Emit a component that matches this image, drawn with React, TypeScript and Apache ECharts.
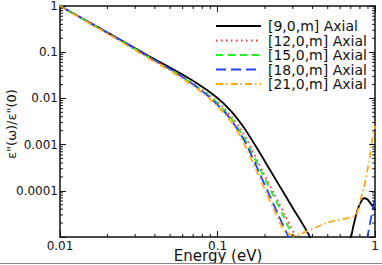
import React, { useEffect, useRef } from "react";
import * as echarts from "echarts";

const seriesNames = ["[9,0,m] Axial", "[12,0,m] Axial", "[15,0,m] Axial", "[18,0,m] Axial", "[21,0,m] Axial"];

const axial9: number[][] = [
  [0.01, 1], [0.02384, 0.1904], [0.03681, 0.082], [0.05685, 0.0362], [0.07598, 0.02],
  [0.0944, 0.01189], [0.1091, 0.00781], [0.1261, 0.004642], [0.1457, 0.002438], [0.1684, 0.001132],
  [0.1947, 0.0005], [0.2418, 0.000145], [0.3006, 4.2e-5], [0.3845, 1.02e-5], [0.45, 2e-6],
  [0.65, 2e-6], [0.676, 8.6e-6], [0.702, 1.0e-5], [0.727, 1.73e-5], [0.7596, 3.12e-5],
  [0.7933, 4.88e-5], [0.8466, 6.9e-5], [0.8906, 6.56e-5], [0.9436, 5.13e-5], [1, 3.81e-5],
];
const axial12: number[][] = [
  [0.01, 1], [0.02384, 0.1857], [0.03681, 0.0781], [0.04917, 0.0442], [0.06112, 0.02829],
  [0.07598, 0.01724], [0.09036, 0.01132], [0.1075, 0.006567], [0.1243, 0.003807], [0.1395, 0.002208],
  [0.1522, 0.001346], [0.166, 0.000743], [0.1947, 0.00025], [0.2283, 8.62e-5], [0.2678, 2.97e-5],
  [0.3117, 1.05e-5], [0.3475, 4.8e-6],
];
const axial15: number[][] = [
  [0.01, 1], [0.02384, 0.1857], [0.03681, 0.0781], [0.04917, 0.0442], [0.06112, 0.0276],
  [0.07598, 0.01681], [0.09036, 0.01077], [0.1044, 0.00673], [0.1207, 0.003904], [0.1355, 0.002208],
  [0.1489, 0.001313], [0.1624, 0.000743], [0.1891, 0.0002627], [0.2202, 9.28e-5], [0.2563, 3.28e-5],
  [0.2984, 1.05e-5], [0.3231, 5.25e-6],
];
const axial18: number[][] = [
  [0.01, 1], [0.02384, 0.1857], [0.03681, 0.0781], [0.04917, 0.0442], [0.06112, 0.0276],
  [0.07598, 0.01641], [0.0891, 0.01051], [0.1029, 0.006567], [0.119, 0.003807], [0.1336, 0.002154],
  [0.1468, 0.001281], [0.159, 0.000743], [0.1837, 0.00025], [0.2108, 8.83e-5], [0.2418, 3.12e-5],
  [0.2795, 1.05e-5], [0.3006, 5.25e-6], [0.5, 1e-6], [0.85, 1e-6], [0.8906, 9.06e-6],
  [0.93, 2.1e-5], [0.981, 5.4e-5], [1, 7.6e-5],
];
const axial21: number[][] = [
  [0.01, 1], [0.02384, 0.1768], [0.03681, 0.0725], [0.04917, 0.041], [0.06112, 0.02562],
  [0.07598, 0.01523], [0.08779, 0.01025], [0.1015, 0.006405], [0.1173, 0.003715], [0.1317, 0.002101],
  [0.1436, 0.00125], [0.1544, 0.000743], [0.1785, 0.00025], [0.2048, 8.62e-5], [0.2333, 3.28e-5],
  [0.2526, 1.81e-5], [0.2716, 1.28e-5], [0.2962, 1.1e-5], [0.3312, 1.14e-5], [0.499, 2.05e-5],
  [0.752, 2.97e-5], [0.8083, 6.57e-5], [0.849, 1.21e-4], [0.913, 4.16e-4], [0.957, 1.28e-3],
  [1, 2.56e-3],
];

const xTickLabels = ["0.01", "0.1", "1"];
const yTickLabels = ["0.0001", "0.001", "0.01", "0.1", "1"];
const xMinorTicks = [0.02, 0.03, 0.04, 0.05, 0.06, 0.07, 0.08, 0.09, 0.2, 0.3, 0.4, 0.5, 0.6, 0.7, 0.8, 0.9];
const yMinorTicks = [
  2e-5, 3e-5, 4e-5, 5e-5, 6e-5, 7e-5, 8e-5, 9e-5,
  2e-4, 3e-4, 4e-4, 5e-4, 6e-4, 7e-4, 8e-4, 9e-4,
  2e-3, 3e-3, 4e-3, 5e-3, 6e-3, 7e-3, 8e-3, 9e-3,
  2e-2, 3e-2, 4e-2, 5e-2, 6e-2, 7e-2, 8e-2, 9e-2,
  0.2, 0.3, 0.4, 0.5, 0.6, 0.7, 0.8, 0.9,
];

const X_MIN = 0.01, X_MAX = 1, Y_MIN = 1e-5, Y_MAX = 1;
const FONT = "DejaVu Sans";
const INK = "#111";

const fmt = (labels: string[]) => (v: number) => {
  const hit = labels.find((l) => Math.abs(Math.log10(parseFloat(l)) - Math.log10(v)) < 1e-6);
  return hit ?? "";
};

export default function App() {
  const ref = useRef<HTMLDivElement>(null);
  useEffect(() => {
    const chart = echarts.init(ref.current!, null, { renderer: "svg" });
    const lines = [axial9, axial12, axial15, axial18, axial21];
    const colors = ["#000000", "#ff3030", "#22ee22", "#2244ff", "#ffaa11"];
    const types: any[] = ["solid", [1.5, 3.5], [7, 5], [10, 5], [7, 3, 1.5, 3]];

    const minorData: number[][] = [
      ...xMinorTicks.map((v) => [v, 0.5, 0]),
      ...yMinorTicks.map((v) => [0.5, v, 1]),
    ];

    const baseAxis = {
      axisLine: { show: true, lineStyle: { color: INK, width: 1.5 } },
      axisTick: { show: true, inside: true, length: 6, lineStyle: { color: INK, width: 1 } },
      splitLine: { show: false },
    };

    const option: any = {
      animation: false,
      backgroundColor: "#fff",
      grid: { left: 60, right: 5, top: 4, bottom: 28 },
      legend: {
        data: seriesNames,
        orient: "vertical",
        left: 210,
        top: 14,
        itemWidth: 45,
        itemHeight: 14,
        itemGap: 0.5,
        itemStyle: { opacity: 0, borderWidth: 0 },
        textStyle: { fontFamily: FONT, fontSize: 14, color: INK, padding: [0, 0, 0, 2] },
      },
      xAxis: [
        {
          ...baseAxis,
          type: "log", logBase: 10, min: X_MIN, max: X_MAX, position: "bottom",
          axisLabel: { fontFamily: FONT, fontSize: 12, color: INK, margin: 3, formatter: fmt(xTickLabels) },
        },
        {
          ...baseAxis,
          type: "log", logBase: 10, min: X_MIN, max: X_MAX, position: "top",
          axisLabel: { show: false },
        },
      ],
      yAxis: [
        {
          ...baseAxis,
          type: "log", logBase: 10, min: Y_MIN, max: Y_MAX, splitNumber: 5, position: "left",
          axisLabel: { fontFamily: FONT, fontSize: 12, color: INK, margin: 2, formatter: fmt(yTickLabels) },
        },
        {
          ...baseAxis,
          type: "log", logBase: 10, min: Y_MIN, max: Y_MAX, splitNumber: 5, position: "right",
          axisLabel: { show: false },
        },
      ],
      series: [
        ...lines.map((d, i) => ({
          type: "line",
          name: seriesNames[i],
          data: d,
          xAxisIndex: 0,
          yAxisIndex: 0,
          symbol: "none",
          showSymbol: false,
          clip: true,
          smooth: 0.2,
          itemStyle: { color: colors[i] },
          lineStyle: { color: colors[i], width: 1.8, type: types[i] },
          z: 2 + i,
        })),
        {
          type: "custom",
          name: "minorTicks",
          xAxisIndex: 0,
          yAxisIndex: 0,
          silent: true,
          clip: false,
          dimensions: ["x", "y", "kind"],
          encode: { x: 0, y: 1 },
          data: minorData,
          renderItem: (params: any, api: any) => {
            const kind = api.value(2);
            const st = { stroke: INK, lineWidth: 1 };
            if (kind === 0) {
              const v = api.value(0);
              const b = api.coord([v, Y_MIN]);
              const t = api.coord([v, Y_MAX]);
              return {
                type: "group",
                children: [
                  { type: "line", shape: { x1: b[0], y1: b[1], x2: b[0], y2: b[1] - 3 }, style: st },
                  { type: "line", shape: { x1: t[0], y1: t[1], x2: t[0], y2: t[1] + 3 }, style: st },
                ],
              };
            }
            const v = api.value(1);
            const l = api.coord([X_MIN, v]);
            const r = api.coord([X_MAX, v]);
            return {
              type: "group",
              children: [
                { type: "line", shape: { x1: l[0], y1: l[1], x2: l[0] + 3, y2: l[1] }, style: st },
                { type: "line", shape: { x1: r[0], y1: r[1], x2: r[0] - 3, y2: r[1] }, style: st },
              ],
            };
          },
          z: 10,
        },
      ],
      graphic: [
        {
          type: "text",
          x: 218,
          y: 256,
          style: { text: "Energy (eV)", font: `15px '${FONT}'`, fill: INK, textAlign: "center", textVerticalAlign: "middle" },
        },
        {
          type: "text",
          x: 11,
          y: 124,
          rotation: Math.PI / 2,
          style: { text: 'ε"(ω)/ε"(0)', font: `13px '${FONT}'`, fill: INK, textAlign: "center", textVerticalAlign: "middle" },
        },
        {
          type: "line",
          shape: { x1: 0, y1: 263.5, x2: 382, y2: 263.5 },
          style: { stroke: "#888", lineWidth: 1 },
        },
      ],
    };
    chart.setOption(option);
    return () => chart.dispose();
  }, []);
  return <div ref={ref} style={{ position: "fixed", left: 0, top: 0, width: 382, height: 265, background: "#fff" }} />;
}
